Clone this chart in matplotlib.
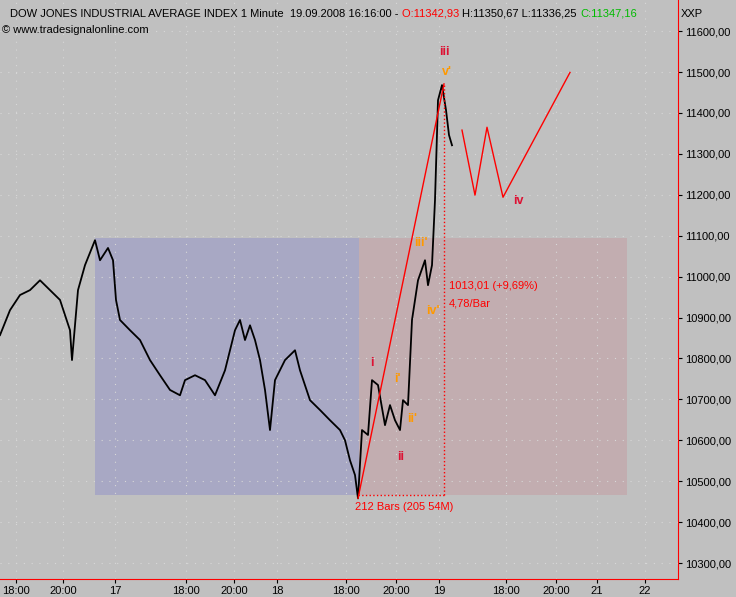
import matplotlib
matplotlib.use("Agg")
import matplotlib.pyplot as plt
plt.rcParams['font.family'] = ['Liberation Sans', 'DejaVu Sans']

# time axis in chart columns
t = [0,10,20,30,40,50,60,70,72,78,85,95,100,108,113,116,120,130,140,150,160,170,180,185,195,205,215,225,235,240,245,250,255,260,265,270,275,285,295,300,310,320,330,340,345,350,355,358,362,368,372,378,385,390,395,400,403,408,412,418,425,428,432,435,438,442,446,449,452]
price = [10857,10918,10955,10967,10991,10967,10943,10869,10796,10967,11028,11089,11040,11070,11040,10943,10894,10869,10845,10796,10759,10723,10710,10747,10759,10747,10710,10771,10869,10894,10845,10881,10845,10796,10723,10625,10747,10796,10820,10771,10698,10674,10649,10625,10600,10551,10515,10458,10625,10613,10747,10735,10637,10686,10649,10625,10698,10686,10894,10991,11040,10979,11028,11187,11431,11468,11407,11346,11321]
proj_t = [462,475,487,503,570]
proj_p = [11358,11199,11365,11194,11499]
yticks = [10300,10400,10500,10600,10700,10800,10900,11000,11100,11200,11300,11400,11500,11600]
xtick_pos = [16,63,115,186,234,277,346,396,439,506,556,597,645]
xtick_lab = ["18:00","20:00","17","18:00","20:00","18","18:00","20:00","19","18:00","20:00","21","22"]
header = [("DOW JONES INDUSTRIAL AVERAGE INDEX 1 Minute  19.09.2008 16:16:00 - ", "black"),
          ("O:11342,93 ", "red"), ("H:11350,67 L:11336,25 ", "black"), ("C:11347,16", "#00bb00")]

Y0, Y1 = 10261, 11676
fig = plt.figure(figsize=(7.36,5.97), dpi=100)
fig.patch.set_facecolor("#c0c0c0")
ax = fig.add_axes([0, 18/597, 678/736, 579/597])
ax.set_facecolor("#c0c0c0")
ax.set_xlim(0,678)
ax.set_ylim(Y0, Y1)

ax.axvspan(95,359, ymin=(10466-Y0)/(Y1-Y0), ymax=(11094-Y0)/(Y1-Y0), color="#a8a8c4", lw=0)
ax.axvspan(359,627, ymin=(10466-Y0)/(Y1-Y0), ymax=(11094-Y0)/(Y1-Y0), color="#c2adb0", lw=0)
for y in yticks:
    ax.axhline(y, color="#d8d8d8", ls=(0,(1,6)), lw=0.8)
for x in xtick_pos:
    ax.axvline(x, color="#d8d8d8", ls=(0,(1,6)), lw=0.8)

ax.plot(t, price, color="black", lw=1.3)
ax.plot(proj_t, proj_p, color="red", lw=1)
ax.plot([358,444],[10458,11471], color="red", lw=1)
ax.plot([444,444],[10466,11471], color="red", ls=":", lw=1)
ax.plot([358,444],[10466,10466], color="red", ls=":", lw=1)

red="#dd1133"; org="#ff9900"
for x,y,s,c in [(444,11550,"iii",red),(447,11500,"v'",org),(518,11185,"iv",red),(372,10790,"i",red),
                (401,10560,"ii",red),(397,10750,"i'",org),(412,10652,"ii'",org),(421,11082,"iii'",org),(433,10915,"iv'",org)]:
    ax.text(x,y,s,color=c,fontsize=9,fontweight="bold",ha="center",va="center")
ax.text(449,10978,"1013,01 (+9,69%)",color="red",fontsize=8,va="center")
ax.text(449,10934,"4,78/Bar",color="red",fontsize=8,va="center")
ax.text(355,10436,"212 Bars (205 54M)",color="red",fontsize=8,va="center")

ax.yaxis.tick_right()
ax.set_yticks(yticks)
ax.set_yticklabels([str(v)+",00" for v in yticks], fontsize=8)
ax.set_xticks(xtick_pos)
ax.set_xticklabels(xtick_lab, fontsize=8)
ax.tick_params(length=3, pad=2)
for s in ["top","left"]:
    ax.spines[s].set_visible(False)
ax.spines["right"].set_color("red")
ax.spines["bottom"].set_color("red")

fs = 8
x = 0.014
fig.canvas.draw()
r = fig.canvas.get_renderer()
for s, c in header:
    tx = fig.text(x, 0.985, s, color=c, fontsize=fs, va="top")
    x += tx.get_window_extent(r).width / fig.bbox.width
fig.text(0.925, 0.985, "XXP", fontsize=fs, va="top")
fig.text(0.003, 0.958, "© www.tradesignalonline.com", fontsize=fs, va="top")
fig.savefig("out.png", dpi=100, facecolor=fig.get_facecolor())
